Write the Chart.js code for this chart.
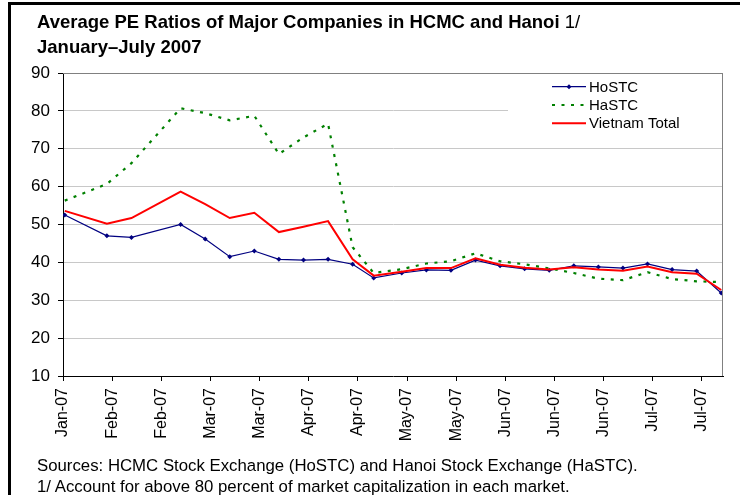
<!DOCTYPE html>
<html>
<head>
<meta charset="utf-8">
<script src="https://cdn.jsdelivr.net/npm/chart.js@4.4.1/dist/chart.umd.min.js"></script>
<style>
  body { margin: 0; background: #fff; }
  #wrap { position: relative; width: 740px; height: 501px; background: #fff; overflow: hidden; font-family: "Liberation Sans", Arial, sans-serif; }
  #frame { position: absolute; left: 8px; top: 2px; width: 740px; height: 490px; border-top: 3px solid #000; border-left: 3px solid #000; }
  #title { position: absolute; left: 37px; top: 9px; font-size: 18.5px; line-height: 25px; font-weight: bold; color: #000; white-space: nowrap; }
  #title .note { font-weight: normal; }
  #foot { position: absolute; left: 37px; top: 455px; font-size: 16.8px; line-height: 21px; color: #000; white-space: nowrap; }
  canvas { position: absolute; left: 0; top: 0; }
</style>
</head>
<body>
<div id="wrap">
  <canvas id="chart" width="740" height="501"></canvas>
  <div id="frame"></div>
  <div id="title">Average PE Ratios of Major Companies in HCMC and Hanoi <span class="note">1/</span><br>January–July 2007</div>
  <div id="foot">Sources: HCMC Stock Exchange (HoSTC) and Hanoi Stock Exchange (HaSTC).<br>1/ Account for above 80 percent of market capitalization in each market.</div>
</div>
<script>
// days counted from the first tick (Jan-07), weekly observations
const days = [0.5, 12.5, 19.5, 33.5, 40.5, 47.5, 54.5, 61.5, 68.5, 75.5, 82.5, 88.5, 96.5,
  103.5, 110.5, 117.5, 124.5, 131.5, 138.5, 145.5, 152.5, 159.5, 166.5, 173.5, 180.5, 187.5];
const hostc = [52.5, 47.0, 46.6, 50.0, 46.2, 41.5, 43.0, 40.8, 40.6, 40.8, 39.5, 35.9, 37.2,
  38.0, 37.9, 40.6, 39.1, 38.3, 37.9, 39.1, 38.8, 38.5, 39.6, 38.1, 37.7, 31.9];
const hastc = [56.3, 60.7, 66.2, 80.7, 79.4, 77.5, 78.7, 68.6, 73.0, 76.6, 44.0, 37.2, 38.2,
  39.7, 40.3, 42.4, 40.3, 39.5, 38.4, 37.2, 35.7, 35.3, 37.4, 35.6, 35.0, 34.8];
const vnTotal = [53.6, 50.2, 51.7, 58.7, 55.4, 51.7, 53.1, 48.0, 49.4, 50.9, 40.8, 36.5, 37.5,
  38.5, 38.5, 41.1, 39.4, 38.6, 38.1, 38.7, 38.1, 37.8, 38.9, 37.4, 37.0, 32.7];
const tickLabels = ['Jan-07', 'Feb-07', 'Feb-07', 'Mar-07', 'Mar-07', 'Apr-07', 'Apr-07',
  'May-07', 'May-07', 'Jun-07', 'Jun-07', 'Jun-07', 'Jul-07', 'Jul-07'];
const tickStep = 14;

const FONT = '"Liberation Sans", Arial, sans-serif';
const pts = arr => arr.map((v, i) => ({ x: days[i], y: v }));

// gray top/right border of the plot and the legend box in the top right corner
const plotExtras = {
  id: 'plotExtras',
  afterDatasetsDraw(chart) {
    const { ctx, chartArea: a } = chart;
    ctx.save();
    ctx.strokeStyle = '#808080';
    ctx.lineWidth = 1;
    ctx.beginPath();
    ctx.moveTo(a.left, Math.round(a.top) + 0.5);
    ctx.lineTo(Math.round(a.right) - 0.5, Math.round(a.top) + 0.5);
    ctx.lineTo(Math.round(a.right) - 0.5, Math.round(a.bottom));
    ctx.stroke();

    // legend
    ctx.fillStyle = '#fff';
    ctx.fillRect(508, Math.round(a.top) + 1, Math.round(a.right) - 1 - 508, 63);
    const rows = [86.7, 105, 123.3];
    ctx.font = '15px ' + FONT;
    ctx.textBaseline = 'middle';
    chart.data.datasets.forEach((ds, i) => {
      const y = rows[i];
      ctx.strokeStyle = ds.borderColor;
      ctx.lineWidth = ds.borderWidth;
      ctx.setLineDash(ds.borderDash || []);
      ctx.beginPath();
      ctx.moveTo(552, y);
      ctx.lineTo(586, y);
      ctx.stroke();
      ctx.setLineDash([]);
      if (ds.pointRadius > 0) {
        const r = ds.pointRadius;
        ctx.fillStyle = ds.borderColor;
        ctx.beginPath();
        ctx.moveTo(569, y - r); ctx.lineTo(569 + r, y); ctx.lineTo(569, y + r); ctx.lineTo(569 - r, y);
        ctx.closePath();
        ctx.fill();
      }
      ctx.fillStyle = '#000';
      ctx.fillText(ds.label, 589, y + 1);
    });
    ctx.restore();
  }
};

new Chart(document.getElementById('chart'), {
  type: 'line',
  data: {
    datasets: [
      {
        label: 'HoSTC',
        data: pts(hostc),
        borderColor: '#000080',
        backgroundColor: '#000080',
        borderWidth: 1.2,
        pointStyle: 'rectRot',
        pointRadius: 2.5,
        pointBorderWidth: 0,
        order: 2
      },
      {
        label: 'HaSTC',
        data: pts(hastc),
        borderColor: '#008000',
        borderWidth: 2.2,
        borderDash: [3, 6.5],
        pointRadius: 0,
        order: 1
      },
      {
        label: 'Vietnam Total',
        data: pts(vnTotal),
        borderColor: '#ff0000',
        borderWidth: 2,
        pointRadius: 0,
        order: 0
      }
    ]
  },
  options: {
    responsive: false,
    animation: false,
    devicePixelRatio: 1,
    layout: { padding: { left: 10, top: 73, right: 17, bottom: 55 } },
    plugins: { legend: { display: false }, tooltip: { enabled: false } },
    elements: { line: { tension: 0 } },
    scales: {
      x: {
        type: 'linear',
        min: 0,
        max: 188,
        afterBuildTicks: scale => {
          scale.ticks = tickLabels.map((l, i) => ({ value: i * tickStep }));
        },
        afterFit: scale => { scale.height = 70; },
        grid: { drawOnChartArea: false, drawTicks: true, tickLength: 5, tickColor: '#000' },
        border: { color: '#000', width: 1 },
        ticks: {
          autoSkip: false,
          minRotation: 90,
          maxRotation: 90,
          padding: 7,
          color: '#000',
          font: { family: FONT, size: 16 },
          callback: value => tickLabels[Math.round(value / tickStep)]
        }
      },
      y: {
        min: 10,
        max: 90,
        afterFit: scale => { scale.width = 53; },
        grid: {
          color: c => (c.tick.value === 10 ? 'rgba(0,0,0,0)' : c.tick.value === 90 ? '#808080' : '#c8c8c8'),
          tickLength: 5,
          tickColor: '#000'
        },
        border: { color: '#000', width: 1 },
        ticks: {
          stepSize: 10,
          padding: 8,
          color: '#000',
          font: { family: FONT, size: 17 }
        }
      }
    }
  },
  plugins: [plotExtras]
});
</script>
</body>
</html>
